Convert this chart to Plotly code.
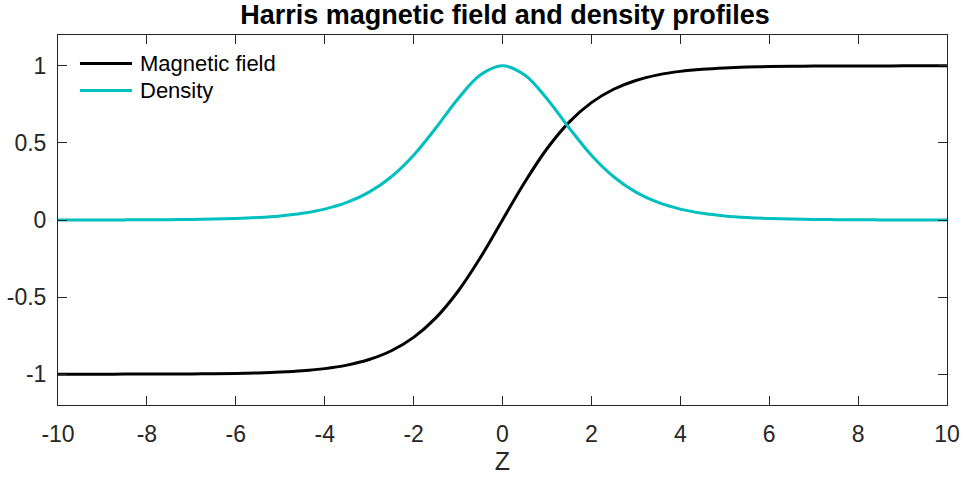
import plotly.graph_objects as go

# Harris current sheet profiles sampled on z = -10..10 (step 0.5), half-width 2
z = [i * 0.5 for i in range(-20, 21)]

# Positive-z half of each profile; the other half follows from symmetry
b_half = [0.0, 0.2449, 0.4621, 0.6351, 0.7616, 0.8483, 0.9051, 0.9414, 0.9640,
          0.9780, 0.9866, 0.9919, 0.9951, 0.9970, 0.9982, 0.9989, 0.9993,
          0.9996, 0.9998, 0.9999, 0.9999]
n_half = [1.0, 0.9400, 0.7864, 0.5966, 0.4200, 0.2804, 0.1807, 0.1138, 0.0707,
          0.0435, 0.0266, 0.0162, 0.0099, 0.0060, 0.0036, 0.0022, 0.0013,
          0.0008, 0.0005, 0.0003, 0.0002]

magnetic_field = [-v for v in b_half[:0:-1]] + b_half
density = n_half[:0:-1] + n_half

series_names = ["Magnetic field", "Density"]
series_colors = ["black", "#00BFBF"]

x_ticks = [-10, -8, -6, -4, -2, 0, 2, 4, 6, 8, 10]
x_labels = ["-10", "-8", "-6", "-4", "-2", "0", "2", "4", "6", "8", "10"]
y_ticks = [-1, -0.5, 0, 0.5, 1]
y_labels = ["-1", "-0.5", "0", "0.5", "1"]

font = "Liberation Sans, Arial, Helvetica, sans-serif"
ink = "#262626"

fig = go.Figure()
for name, color, values in zip(series_names, series_colors, [magnetic_field, density]):
    fig.add_trace(go.Scatter(x=z, y=values, mode="lines", name=name, showlegend=False,
                             line=dict(color=color, width=3, shape="spline")))

# Compact legend in the upper-left corner of the axes box
legend_rows_y = [0.9230, 0.8500]
for name, color, ly in zip(series_names, series_colors, legend_rows_y):
    fig.add_shape(type="line", xref="paper", yref="paper",
                  x0=0.0247, x1=0.0832, y0=ly, y1=ly,
                  line=dict(color=color, width=3))
    fig.add_annotation(text=name, xref="paper", yref="paper", x=0.0895, y=ly,
                       xanchor="left", yanchor="middle", showarrow=False,
                       font=dict(family=font, size=22, color="black"))

axis_common = dict(showgrid=False, zeroline=False, showline=True, mirror="allticks",
                   linecolor=ink, linewidth=1, ticks="inside", tickcolor=ink,
                   ticklen=9, automargin=False,
                   tickfont=dict(family=font, size=23, color=ink))

fig.update_layout(
    width=968, height=479,
    margin=dict(l=58, r=21, t=35, b=74),
    paper_bgcolor="white", plot_bgcolor="white",
    showlegend=False,
    title=dict(text="<b>Harris magnetic field and density profiles</b>",
               x=0.5217, xanchor="center", y=0.97, yanchor="middle",
               font=dict(family=font, size=27, color="black")),
    xaxis=dict(range=[-10, 10], tickvals=x_ticks, ticktext=x_labels,
               ticklabelstandoff=8,
               title=dict(text="Z", font=dict(family=font, size=25, color=ink), standoff=4),
               **axis_common),
    yaxis=dict(range=[-1.2, 1.2], tickvals=y_ticks, ticktext=y_labels,
               ticklabelstandoff=6, **axis_common),
)

fig.write_html("out.html")
